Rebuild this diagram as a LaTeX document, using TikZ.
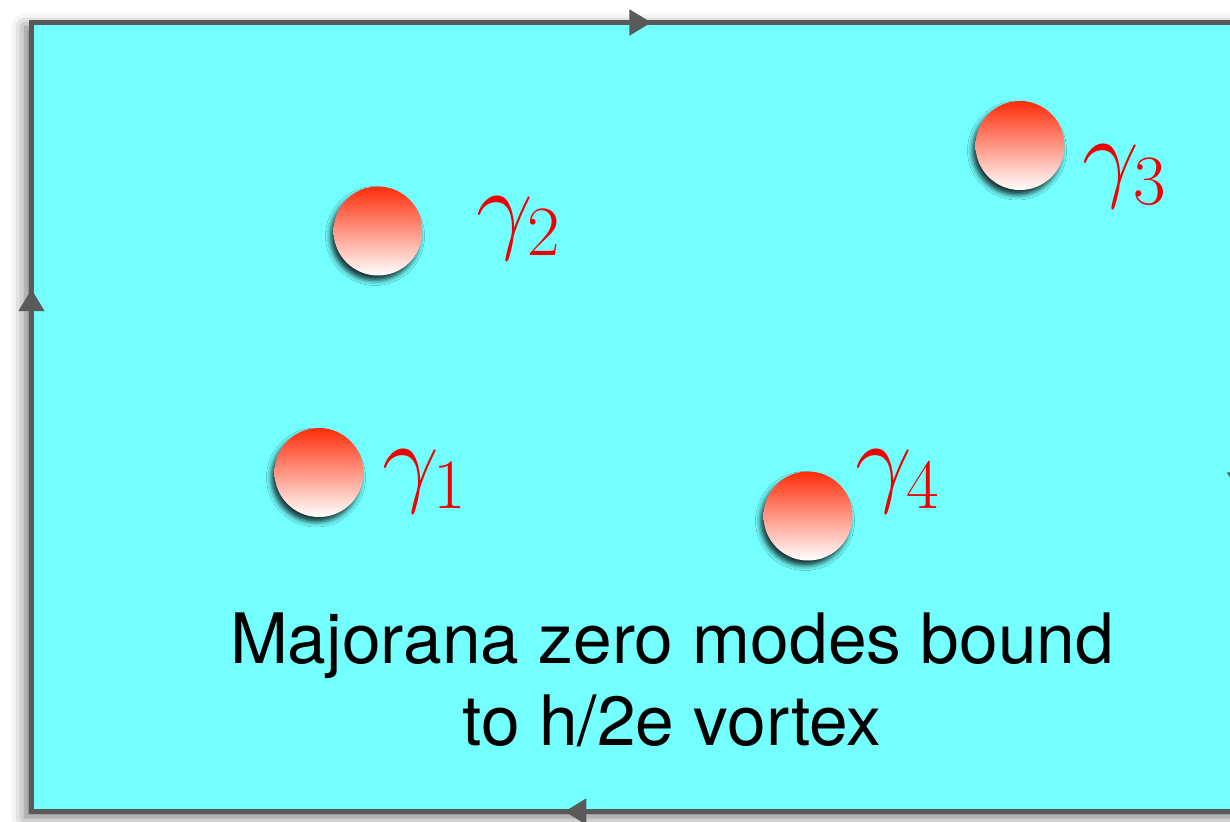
\RequirePackage{fix-cm}
\documentclass[tikz,border=0pt]{standalone}
\usepackage{fontspec}
\newfontfamily\helv{TeX Gyre Heros}
\usetikzlibrary{arrows.meta,decorations.markings,shadows.blur}
\definecolor{cyanfill}{RGB}{115,255,255}
\definecolor{edgegray}{RGB}{90,90,90}
\definecolor{ballred}{RGB}{255,45,10}
\definecolor{labred}{RGB}{240,0,0}
\tikzset{
  edge/.style={draw=edgegray,line width=5pt},
  flow/.style={edge,postaction={decorate},decoration={markings,
     mark=at position #1 with {\arrow{Triangle[length=22pt,width=25pt]}}}},
  ball/.style={circle,minimum size=89pt,inner sep=0pt,top color=ballred,bottom color=white,
     blur shadow={shadow xshift=-3pt,shadow yshift=-5pt,shadow blur radius=5pt,shadow opacity=80}},
  lab/.style={text=labred,anchor=base west,inner sep=0pt,font=\fontsize{101}{101}\selectfont},
  caption/.style={anchor=base,inner sep=0pt,font=\helv\fontsize{69.5}{82}\selectfont},
}
\begin{document}
\begin{tikzpicture}[x=1pt,y=-1pt]
\useasboundingbox (0,0) rectangle (1230,821);
\clip (0,0) rectangle (1230,821);
\coordinate (tl) at (31.5,22.5);
\coordinate (tr) at (1240,22.5);
\coordinate (br) at (1240,811.5);
\coordinate (bl) at (31.5,811.5);
\fill[cyanfill,blur shadow={shadow xshift=-6pt,shadow yshift=-5pt,shadow blur radius=14pt,shadow opacity=60}] (tl) rectangle (br);
\node[caption] (cap1) at (672,663) {Majorana zero modes bound};
\node[caption] (cap2) at (672,745) {to h/2e vortex};
% balls
\node[ball] (m1) at (319,472.5) {};
\node[ball] (m2) at (378,231) {};
\node[ball] (m3) at (1020,145.5) {};
\node[ball] (m4) at (808,516) {};
\node[lab] (g1) at (382,493) {$\gamma_1$};
\node[lab] (g2) at (476,240) {$\gamma_2$};
\node[lab] (g3) at (1082,189) {$\gamma_3$};
\node[lab] (g4) at (855,493) {$\gamma_4$};
% border with flow arrows
\draw[flow=0.662] (bl) -- (tl);
\draw[flow=0.513] (tl) -- (tr);
\draw[flow=0.598] (tr) -- (br);
\draw[flow=0.559] (br) -- (bl);
\fill[edgegray] (tl) ++(-2.5,-2.5) rectangle ++(5,5);
\fill[edgegray] (bl) ++(-2.5,-2.5) rectangle ++(5,5);
\end{tikzpicture}
\end{document}
